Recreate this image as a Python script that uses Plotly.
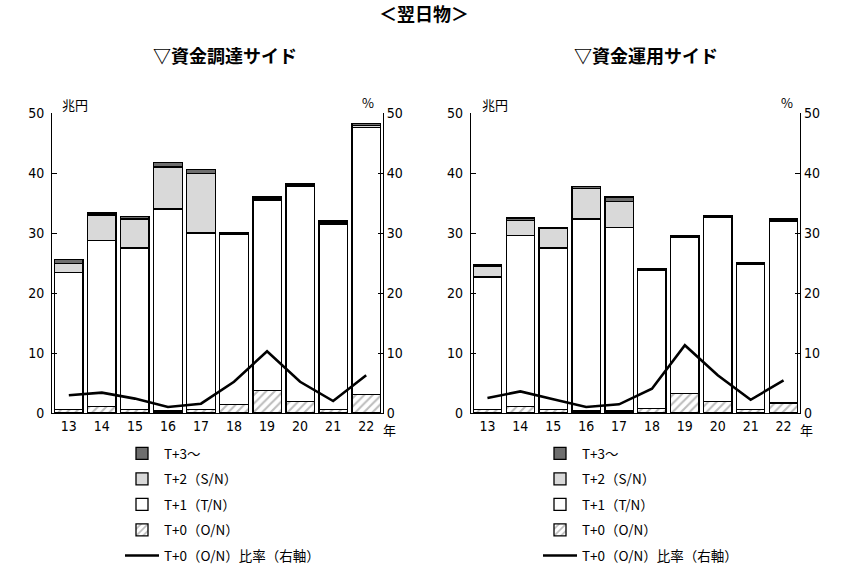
import plotly.graph_objects as go

# 年（2013-2022）
years = ["13", "14", "15", "16", "17", "18", "19", "20", "21", "22"]

# 資金調達サイド（兆円）
fund_t0 = [0.6, 1.1, 0.6, 0.35, 0.55, 1.45, 3.7, 1.9, 0.55, 3.05]
fund_t1 = [22.8, 27.7, 26.9, 33.65, 29.45, 28.35, 31.8, 35.8, 30.9, 44.5]
fund_t2 = [1.5, 4.2, 4.85, 7.0, 9.9, 0.15, 0.2, 0.2, 0.2, 0.4]
fund_t3 = [0.7, 0.35, 0.35, 0.75, 0.7, 0.1, 0.3, 0.25, 0.35, 0.3]
fund_ratio = [2.95, 3.4, 2.4, 1.0, 1.55, 5.2, 10.3, 5.2, 2.0, 6.3]

# 資金運用サイド（兆円）
inv_t0 = [0.55, 1.1, 0.55, 0.35, 0.35, 0.8, 3.3, 1.9, 0.55, 1.65]
inv_t1 = [22.1, 28.5, 26.95, 32.0, 30.6, 23.0, 26.05, 30.7, 24.25, 30.35]
inv_t2 = [1.8, 2.5, 3.2, 5.05, 4.3, 0.1, 0.1, 0.1, 0.1, 0.35]
inv_t3 = [0.2, 0.4, 0.25, 0.3, 0.75, 0.15, 0.15, 0.2, 0.1, 0.05]
inv_ratio = [2.5, 3.6, 2.3, 1.0, 1.45, 4.05, 11.3, 6.3, 2.2, 5.45]

series_names = ["T+0（O/N）", "T+1（T/N）", "T+2（S/N）", "T+3～", "T+0（O/N）比率（右軸）"]

W, H = 849, 584
jp = "Noto Sans CJK JP"
num = "Liberation Sans Narrow, DejaVu Sans Condensed, Liberation Sans, Noto Sans CJK JP"


def add_side(fig, t0, t1, t2, t3, ratio, xa, ya, ya2, legend):
    common = dict(x=years, xaxis=xa, yaxis=ya, legend=legend,
                  marker_line=dict(color="black", width=1.3))
    fig.add_trace(go.Bar(y=t0, name=series_names[0], legendrank=4, legendgroup="a",
                         marker=dict(color="white",
                                     pattern=dict(shape="/", fgcolor="#7a7a7a",
                                                  bgcolor="white", size=6, solidity=0.35)),
                         **common))
    fig.add_trace(go.Bar(y=t1, name=series_names[1], legendrank=3, legendgroup="b",
                         marker_color="white", **common))
    fig.add_trace(go.Bar(y=t2, name=series_names[2], legendrank=2, legendgroup="c",
                         marker_color="#d9d9d9", **common))
    fig.add_trace(go.Bar(y=t3, name=series_names[3], legendrank=1, legendgroup="d",
                         marker_color="#6e6e6e", **common))
    fig.add_trace(go.Scatter(x=years, y=ratio, xaxis=xa, yaxis=ya2, legend=legend,
                             name=series_names[4], legendrank=5, legendgroup="e",
                             mode="lines", line=dict(color="black", width=2.6)))


fig = go.Figure()
add_side(fig, fund_t0, fund_t1, fund_t2, fund_t3, fund_ratio, "x", "y", "y2", "legend")
add_side(fig, inv_t0, inv_t1, inv_t2, inv_t3, inv_ratio, "x2", "y3", "y4", "legend2")

y_bottom = 1 - 413 / H
y_top = 1 - 113 / H

xcommon = dict(type="category", range=[-0.5, 9.5], showline=True, linecolor="black",
               linewidth=1.3, ticks="", showgrid=False, zeroline=False, automargin=False,
               tickfont=dict(family=num, size=14, color="black"))
ycommon = dict(range=[0, 50], dtick=10, showline=True, linecolor="black", linewidth=1.3,
               ticks="inside", ticklen=5, tickcolor="black", showgrid=False, zeroline=False,
               automargin=False, tickfont=dict(family=num, size=14, color="black"))

legend_style = dict(xanchor="left", yanchor="top", traceorder="grouped", tracegroupgap=5,
                    itemwidth=34, font=dict(family=jp, size=13.5, color="black"),
                    bgcolor="rgba(0,0,0,0)")

fig.update_layout(
    width=W, height=H,
    margin=dict(l=0, r=0, t=0, b=0, autoexpand=False),
    paper_bgcolor="white", plot_bgcolor="white",
    barmode="stack", bargap=0.14,
    font=dict(family=jp, color="black"),
    xaxis=dict(domain=[52.3 / W, 382.7 / W], anchor="y", **xcommon),
    yaxis=dict(domain=[y_bottom, y_top], anchor="x", side="left", ticklabelstandoff=4, **ycommon),
    yaxis2=dict(overlaying="y", anchor="x", side="right", **ycommon),
    xaxis2=dict(domain=[471 / W, 800 / W], anchor="y3", **xcommon),
    yaxis3=dict(domain=[y_bottom, y_top], anchor="x2", side="left", ticklabelstandoff=4, **ycommon),
    yaxis4=dict(overlaying="y3", anchor="x2", side="right", **ycommon),
    legend=dict(x=120 / W, y=1 - 438 / H, **legend_style),
    legend2=dict(x=538 / W, y=1 - 438 / H, **legend_style),
)

annots = [
    dict(text="<b>＜翌日物＞</b>", x=424, y=13, size=18),
    dict(text="<b>▽資金調達サイド</b>", x=225, y=55, size=18),
    dict(text="<b>▽資金運用サイド</b>", x=646, y=55, size=18),
    dict(text="兆円", x=75, y=104, size=13),
    dict(text="%", x=368, y=103, size=13),
    dict(text="年", x=389, y=430, size=13),
    dict(text="兆円", x=495, y=104, size=13),
    dict(text="%", x=787, y=103, size=13),
    dict(text="年", x=806, y=430, size=13),
]
for a in annots:
    fig.add_annotation(text=a["text"], x=a["x"] / W, y=1 - a["y"] / H, xref="paper", yref="paper",
                       xanchor="center", yanchor="middle", showarrow=False,
                       font=dict(family=jp, size=a["size"], color="black"))

# T+1 値のラベル（21年・22年）
for xa, ya, t1, ys in [("x", "y", fund_t1, [16, 25.2]), ("x2", "y3", inv_t1, [12.4, 16.7])]:
    for i, yy in zip([8, 9], ys):
        fig.add_annotation(text=str(int(t1[i])), x=years[i], y=yy, xref=xa, yref=ya,
                           showarrow=False, font=dict(family=num, size=14, color="black"))

# ページ既定の余白を消して図を左上に合わせる
fig.write_html("out.html", config={"displayModeBar": False},
               post_script="document.body.style.margin='0';")
